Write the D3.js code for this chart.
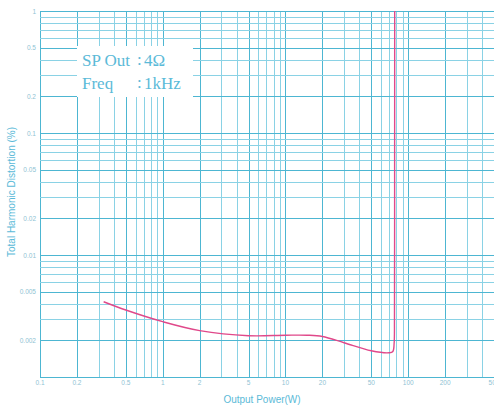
<!DOCTYPE html>
<html>
<head>
<meta charset="utf-8">
<script src="https://cdn.jsdelivr.net/npm/d3@7"></script>
<style>
  body { margin: 0; background: #fff; }
  svg { display: block; }
</style>
</head>
<body>
<script>
"use strict";

// output power (W) vs THD (%)
const powerW = [0.33, 0.5, 1, 2, 5, 10, 15, 20, 30, 50, 70, 75, 76.8, 77.3, 77.5, 77.6];
const thdPct = [0.00414, 0.00354, 0.00284, 0.0024, 0.00218, 0.0022, 0.0022, 0.00215, 0.00191, 0.00164, 0.00158, 0.00162, 0.0019, 0.003, 0.05, 1.2];

const xTicks = [0.1, 0.2, 0.5, 1, 2, 5, 10, 20, 50, 100, 200, 500];
const yTicks = [1, 0.5, 0.2, 0.1, 0.05, 0.02, 0.01, 0.005, 0.002];
const infoLines = [["SP Out", "4Ω"], ["Freq", "1kHz"]];

const width = 494, height = 405;
const margin = { top: 11, right: 0, bottom: 28, left: 40 };

const gridMinor = "#8ad2e5";
const gridMajor = "#4db6d2";
const textCol = "#5bbad8";

const svg = d3.select("body").append("svg")
    .attr("width", width)
    .attr("height", height);

const x = d3.scaleLog().domain([0.1, 500]).range([margin.left, width - margin.right]);
const y = d3.scaleLog().domain([0.001, 1]).range([height - margin.bottom, margin.top]);

// log grid: every 1..9 multiple per decade
const xGrid = [];
for (let d = 0.1; d < 500; d *= 10) {
    for (let m = 1; m <= 9; m++) {
        const v = +(d * m).toPrecision(3);
        if (v <= 500) xGrid.push(v);
    }
}
xGrid.push(500);
const yGrid = [];
for (let d = 0.001; d < 1; d *= 10) {
    for (let m = 1; m <= 9; m++) yGrid.push(+(d * m).toPrecision(3));
}
yGrid.push(1);

const isMajor = v => {
    const m = +(v / Math.pow(10, Math.floor(Math.log10(v) + 1e-9))).toPrecision(3);
    return m === 1 || m === 2 || m === 5;
};

const grid = svg.append("g");
grid.selectAll(".vx").data(xGrid).enter().append("line")
    .attr("x1", d => Math.round(x(d)) + 0.5)
    .attr("x2", d => Math.round(x(d)) + 0.5)
    .attr("y1", y(1))
    .attr("y2", y(0.001))
    .attr("stroke", d => isMajor(d) ? gridMajor : gridMinor)
    .attr("stroke-width", 1);
grid.selectAll(".hy").data(yGrid).enter().append("line")
    .attr("y1", d => Math.round(y(d)) + 0.5)
    .attr("y2", d => Math.round(y(d)) + 0.5)
    .attr("x1", x(0.1))
    .attr("x2", x(500))
    .attr("stroke", d => isMajor(d) ? gridMajor : gridMinor)
    .attr("stroke-width", 1);

// box for the test conditions
svg.append("rect")
    .attr("x", 77).attr("y", 46)
    .attr("width", 116).attr("height", 51)
    .attr("fill", "#fff");

const info = svg.append("g")
    .attr("font-family", "'Liberation Serif', 'DejaVu Serif', serif")
    .attr("font-size", 17)
    .attr("fill", textCol);
infoLines.forEach((l, i) => {
    const by = 66 + i * 23;
    info.append("text").attr("x", 82).attr("y", by).text(l[0]);
    info.append("text").attr("x", 137).attr("y", by - 1).text(":");
    info.append("text").attr("x", 144).attr("y", by).text(l[1]);
});

// curve
const line = d3.line()
    .x((d, i) => x(powerW[i]))
    .y(d => y(d))
    .curve(d3.curveCatmullRom.alpha(0.5));

svg.append("defs").append("clipPath").attr("id", "plot")
    .append("rect")
    .attr("x", margin.left).attr("y", margin.top)
    .attr("width", width - margin.left - margin.right)
    .attr("height", height - margin.top - margin.bottom);

svg.append("path")
    .datum(thdPct)
    .attr("clip-path", "url(#plot)")
    .attr("fill", "none")
    .attr("stroke", "#e0488a")
    .attr("stroke-width", 1.4)
    .attr("d", line);

// tick labels
const tickFont = "'Liberation Sans', Arial, sans-serif";
svg.append("g").selectAll("text").data(xTicks).enter().append("text")
    .attr("x", d => x(d))
    .attr("y", 385)
    .attr("text-anchor", "middle")
    .attr("font-family", tickFont)
    .attr("font-size", 6.5)
    .attr("fill", "#8fc3d4")
    .text(d => d);
svg.append("g").selectAll("text").data(yTicks).enter().append("text")
    .attr("x", 36)
    .attr("y", d => y(d) + 2.5)
    .attr("text-anchor", "end")
    .attr("font-family", tickFont)
    .attr("font-size", 6.5)
    .attr("fill", "#8fc3d4")
    .text(d => d);

// axis titles
svg.append("text")
    .attr("x", 262).attr("y", 403)
    .attr("text-anchor", "middle")
    .attr("font-family", tickFont)
    .attr("font-size", 10)
    .attr("fill", textCol)
    .text("Output Power(W)");
svg.append("text")
    .attr("transform", "translate(15,192) rotate(-90)")
    .attr("text-anchor", "middle")
    .attr("font-family", tickFont)
    .attr("font-size", 10)
    .attr("fill", textCol)
    .text("Total Harmonic Distortion (%)");
</script>
</body>
</html>
